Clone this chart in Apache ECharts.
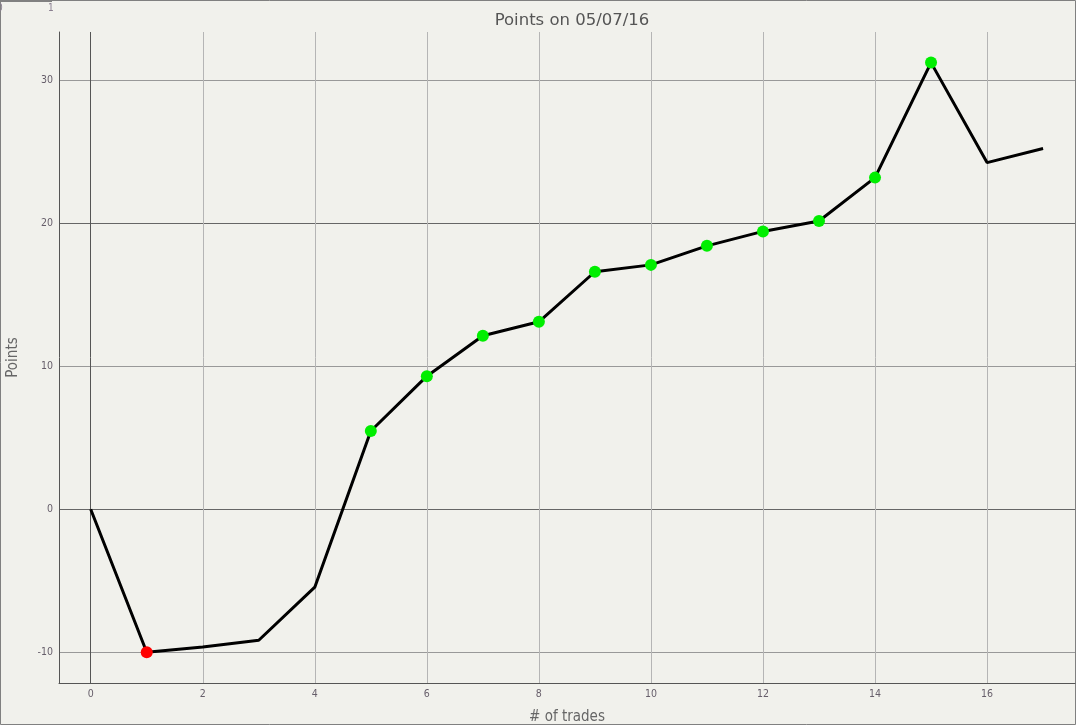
<!DOCTYPE html>
<html>
  <head>
    <meta charset="utf-8" />
    <title>Points on 05/07/16</title>
    <script src="https://cdn.jsdelivr.net/npm/echarts@6/dist/echarts.min.js"></script>
    <style>
      html, body { margin: 0; padding: 0; background: #f1f1ec; }
    </style>
  </head>
  <body>
    <div id="main" style="width: 1076px;height:725px;"></div>
    <script type="text/javascript">
      // trade number and running points total
      var trades = [0, 1, 2, 3, 4, 5, 6, 7, 8, 9, 10, 11, 12, 13, 14, 15, 16, 17];
      var points = [0, -10, -9.63, -9.16, -5.45, 5.47, 9.3, 12.12, 13.1, 16.6, 17.08, 18.41, 19.42, 20.15, 23.18, 31.22, 24.23, 25.22];
      // marker for each point: 'L' = loss dot, 'W' = win dot, '' = none
      var outcome = ['', 'L', '', '', '', 'W', 'W', 'W', 'W', 'W', 'W', 'W', 'W', 'W', 'W', 'W', '', ''];
      var xTicks = [0, 2, 4, 6, 8, 10, 12, 14, 16];
      var yTicks = [-10, 0, 10, 20, 30];

      var myChart = echarts.init(document.getElementById('main'));

      var seriesData = trades.map(function (t, i) {
        var item = { value: [t, points[i]] };
        if (outcome[i] === 'L') {
          item.symbol = 'circle';
          item.itemStyle = { color: '#ff0000' };
        } else if (outcome[i] === 'W') {
          item.symbol = 'circle';
          item.itemStyle = { color: '#00ee00' };
        } else {
          item.symbol = 'none';
        }
        return item;
      });

      var labelStyle = {
        color: '#665e6a',
        fontSize: 10.5,
        fontFamily: 'DejaVu Sans Condensed'
      };

      option = {
        backgroundColor: '#f1f1ec',
        animation: false,
        title: {
          text: 'Points on 05/07/16',
          left: 567,
          textAlign: 'center',
          top: 7,
          textStyle: {
            color: '#555555',
            fontSize: 16.5,
            fontWeight: 'normal',
            fontFamily: 'DejaVu Sans'
          }
        },
        grid: {
          left: 59,
          top: 32,
          right: 1,
          bottom: 42,
          containLabel: false,
          outerBoundsMode: 'none'
        },
        xAxis: {
          type: 'value',
          min: -0.566,
          max: 17.57,
          name: '# of trades',
          nameLocation: 'middle',
          nameGap: 27,
          nameTextStyle: {
            color: '#666666',
            fontSize: 15,
            fontFamily: 'DejaVu Sans Condensed'
          },
          axisLine: { onZero: false, lineStyle: { color: '#555555', width: 1 } },
          axisTick: { show: false, customValues: xTicks },
          axisLabel: Object.assign({ customValues: xTicks, margin: 6 }, labelStyle),
          splitLine: {
            show: true,
            lineStyle: {
              width: 1,
              color: ['#555555', '#b5b5b5', '#b5b5b5', '#b5b5b5', '#b5b5b5', '#b5b5b5', '#b5b5b5', '#b5b5b5', '#b5b5b5']
            }
          }
        },
        yAxis: {
          type: 'value',
          min: -12.15,
          max: 33.36,
          name: 'Points',
          nameLocation: 'middle',
          nameGap: 38,
          nameTextStyle: {
            color: '#666666',
            fontSize: 15,
            fontFamily: 'DejaVu Sans Condensed'
          },
          axisLine: { show: true, onZero: false, lineStyle: { color: '#555555', width: 1 } },
          axisTick: { show: false, customValues: yTicks },
          axisLabel: Object.assign({ customValues: yTicks, margin: 6 }, labelStyle),
          splitLine: {
            show: true,
            lineStyle: {
              width: 1,
              color: ['#999999', '#666666', '#999999', '#666666', '#999999']
            }
          }
        },
        graphic: [
          {
            type: 'rect',
            shape: { x: 0.5, y: 0.5, width: 1075, height: 724 },
            style: { fill: 'none', stroke: '#808080', lineWidth: 1 },
            silent: true
          },
          {
            type: 'rect',
            shape: { x: 0, y: 0, width: 52, height: 2 },
            style: { fill: '#808080' },
            silent: true
          },
          {
            type: 'text',
            left: -3,
            top: 3,
            style: { text: '0', fill: '#8a7f90', fontSize: 10, fontFamily: 'DejaVu Sans Condensed' }
          },
          {
            type: 'text',
            left: 48,
            top: 3,
            style: { text: '1', fill: '#8a7f90', fontSize: 10, fontFamily: 'DejaVu Sans Condensed' }
          }
        ],
        series: [
          {
            name: 'Points',
            type: 'line',
            data: seriesData,
            symbolSize: 12,
            showAllSymbol: true,
            lineStyle: { color: '#000000', width: 3 },
            z: 5
          }
        ]
      };

      myChart.setOption(option);
    </script>
  </body>
</html>
